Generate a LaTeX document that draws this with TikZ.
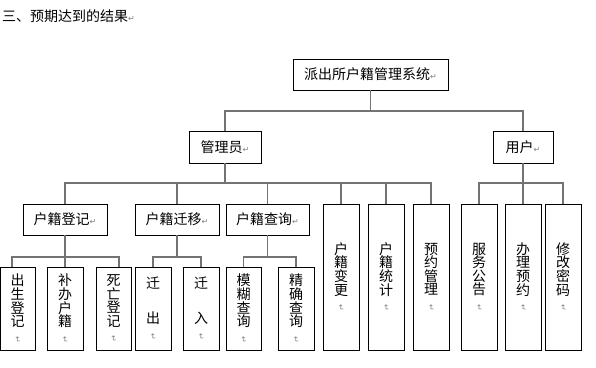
\documentclass[tikz,border=0pt]{standalone}
\usepackage{fontspec}
\usepackage{graphicx}
\usetikzlibrary{calc}
\setmainfont{Noto Sans CJK SC}
\newfontfamily\symf{DejaVu Sans}
\newcommand{\rmk}{{\symf\color{gray}\fontsize{8}{8}\selectfont ↵}}
\newcommand{\vmk}{\\[-4pt]\rotatebox{-90}{\rmk}}
\begin{document}
\begin{tikzpicture}[x=1pt,y=-1pt,
  hbox/.style={draw=black, line width=0.8pt, minimum height=31pt, inner sep=0pt, font=\fontsize{14}{14}\selectfont},
  vcol/.style={draw=black, line width=0.8pt, minimum width=36pt, inner sep=0pt, align=center, font=\fontsize{14}{13.6}\selectfont},
  tallcol/.style={vcol, minimum height=146pt},
  lowcol/.style={vcol, minimum height=83pt},
  link/.style={draw=black!55, line width=1.1pt}]
\useasboundingbox (0,0) rectangle (596,367);
\node[anchor=west, inner sep=0pt, font=\fontsize{14}{14}\selectfont] (title) at (2,16) {三、预期达到的结果\rmk};
% level 0-1
\node[hbox, minimum width=155pt] (top) at (370.5,74.5) {派出所户籍管理系统\rmk};
\node[hbox, minimum width=72pt, minimum height=32pt] (mgr) at (225,147) {管理员\rmk};
\node[hbox, minimum width=60pt, minimum height=32pt] (user) at (523,147) {用户\rmk};
% level 2
\node[hbox, minimum width=84pt] (reg) at (65,219.5) {户籍登记\rmk};
\node[hbox, minimum width=84pt] (mig) at (177,219.5) {户籍迁移\rmk};
\node[hbox, minimum width=83pt] (qry) at (267.5,219.5) {户籍查询\rmk};
\node[tallcol] (chg) at (341,277) {户\\籍\\变\\更\vmk};
\node[tallcol] (stat) at (386,277) {户\\籍\\统\\计\vmk};
\node[tallcol] (appt) at (431,277) {预\\约\\管\\理\vmk};
\node[tallcol] (svc) at (479,277) {服\\务\\公\\告\vmk};
\node[tallcol] (doapp) at (523,277) {办\\理\\预\\约\vmk};
\node[tallcol] (pwd) at (563,277) {修\\改\\密\\码\vmk};
% level 3
\node[lowcol, minimum width=35pt] (birth) at (17.5,308.5) {出\\生\\登\\记\vmk};
\node[lowcol] (supp) at (65,308.5) {补\\办\\户\\籍\vmk};
\node[lowcol, minimum width=35pt] (death) at (113.5,308.5) {死\\亡\\登\\记\vmk};
\node[lowcol] (out) at (153,308.5) {迁\\[22pt]出\vmk};
\node[lowcol] (in) at (201,308.5) {迁\\[22pt]入\vmk};
\node[lowcol, minimum width=35pt] (fuzzy) at (243.5,308.5) {模\\糊\\查\\询\vmk};
\node[lowcol] (exact) at (296,308.5) {精\\确\\查\\询\vmk};
% buses
\coordinate (busA) at (0,111);
\coordinate (busB) at (0,183);
\coordinate (busC) at (0,257);
\draw[link] (top.south) -- (top.south |- busA);
\draw[link] (mgr.north) -- (mgr.north |- busA) -| (user.north);
\draw[link] (mgr.south) -- (mgr.south |- busB);
\draw[link] (reg.north) -- (reg.north |- busB) -- (appt.north |- busB) -- (appt.north);
\foreach \n in {mig,qry,chg,stat} \draw[link] (\n.north) -- (\n.north |- busB);
\draw[link] (user.south) -- (user.south |- busB);
\draw[link] (svc.north) -- (svc.north |- busB) -- (pwd.north |- busB) -- (pwd.north);
\draw[link] (doapp.north) -- (doapp.north |- busB);
\coordinate (bL) at ($(birth.north)+(-5.5,0)$);
\coordinate (dR) at ($(death.north)+(5.5,0)$);
\draw[link] (reg.south) -- (reg.south |- busC);
\draw[link] (bL) -- (bL |- busC) -- (dR |- busC) -- (dR);
\draw[link] (supp.north) -- (supp.north |- busC);
\draw[link] (mig.south) -- (mig.south |- busC);
\draw[link] (out.north) -- (out.north |- busC) -- (in.north |- busC) -- (in.north);
\draw[link] (qry.south) -- (qry.south |- busC);
\draw[link] (fuzzy.north) -- (fuzzy.north |- busC) -- (exact.north |- busC) -- (exact.north);
\end{tikzpicture}
\end{document}
